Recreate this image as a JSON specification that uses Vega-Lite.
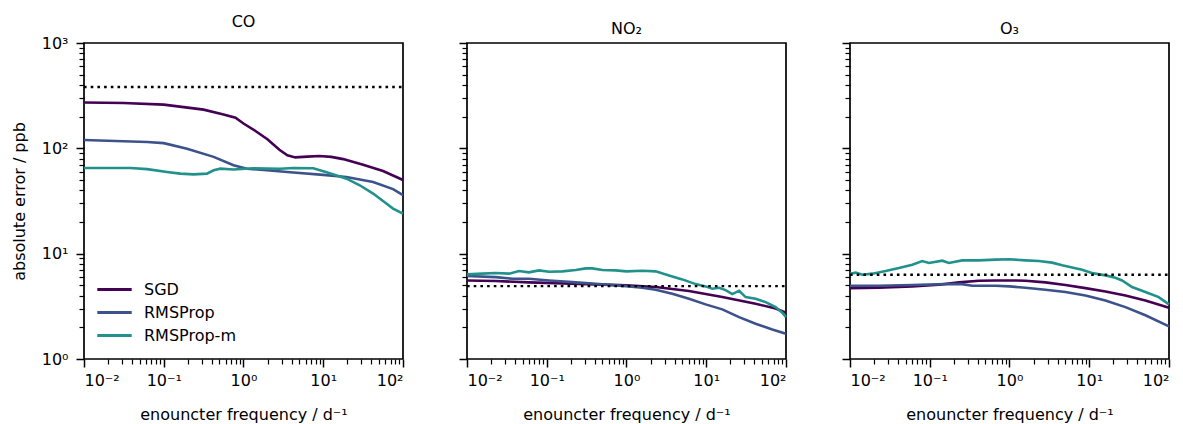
{
  "$schema": "https://vega.github.io/schema/vega-lite/v6.json",
  "background": "white",
  "padding": {"left": 10, "top": 13, "right": 2, "bottom": 5},
  "spacing": 64,
  "bounds": "flush",
  "config": {
    "font": "DejaVu Sans",
    "view": {"stroke": "black", "strokeWidth": 1.7},
    "axis": {"grid": false, "domain": false, "tickColor": "black", "tickWidth": 1.5, "labelColor": "black", "titleColor": "black", "labelFont": "DejaVu Sans", "titleFont": "DejaVu Sans", "labelFontSize": 16, "titleFontSize": 16, "titleFontWeight": "normal"},
    "legend": {"labelFont": "DejaVu Sans", "labelFontSize": 16, "labelColor": "black"}
  },
  "datasets": {
    "curves": [
      {"gas":"CO","opt":"SGD","f":0.01,"err":272},{"gas":"CO","opt":"SGD","f":0.0316,"err":269},{"gas":"CO","opt":"SGD","f":0.1,"err":260},{"gas":"CO","opt":"SGD","f":0.316,"err":233},{"gas":"CO","opt":"SGD","f":0.562,"err":210},{"gas":"CO","opt":"SGD","f":0.794,"err":195},{"gas":"CO","opt":"SGD","f":1,"err":172},{"gas":"CO","opt":"SGD","f":1.413,"err":146},{"gas":"CO","opt":"SGD","f":1.995,"err":122},{"gas":"CO","opt":"SGD","f":2.818,"err":97},{"gas":"CO","opt":"SGD","f":3.548,"err":86},{"gas":"CO","opt":"SGD","f":4.467,"err":82},{"gas":"CO","opt":"SGD","f":6.31,"err":83.4},{"gas":"CO","opt":"SGD","f":8.91,"err":84.5},{"gas":"CO","opt":"SGD","f":12.59,"err":83},{"gas":"CO","opt":"SGD","f":17.78,"err":79},{"gas":"CO","opt":"SGD","f":31.62,"err":70},{"gas":"CO","opt":"SGD","f":56.23,"err":61},{"gas":"CO","opt":"SGD","f":100,"err":50},
      {"gas":"CO","opt":"RMSProp","f":0.01,"err":120},{"gas":"CO","opt":"RMSProp","f":0.0619,"err":115},{"gas":"CO","opt":"RMSProp","f":0.1,"err":112},{"gas":"CO","opt":"RMSProp","f":0.196,"err":99},{"gas":"CO","opt":"RMSProp","f":0.422,"err":83},{"gas":"CO","opt":"RMSProp","f":0.75,"err":69},{"gas":"CO","opt":"RMSProp","f":1.102,"err":64},{"gas":"CO","opt":"RMSProp","f":1.959,"err":62},{"gas":"CO","opt":"RMSProp","f":4.22,"err":59},{"gas":"CO","opt":"RMSProp","f":10,"err":56},{"gas":"CO","opt":"RMSProp","f":19.5,"err":53.5},{"gas":"CO","opt":"RMSProp","f":42.2,"err":48},{"gas":"CO","opt":"RMSProp","f":75,"err":41},{"gas":"CO","opt":"RMSProp","f":100,"err":36},
      {"gas":"CO","opt":"RMSProp-m","f":0.01,"err":65},{"gas":"CO","opt":"RMSProp-m","f":0.0384,"err":65},{"gas":"CO","opt":"RMSProp-m","f":0.0619,"err":63.5},{"gas":"CO","opt":"RMSProp-m","f":0.11,"err":59.6},{"gas":"CO","opt":"RMSProp-m","f":0.161,"err":57.5},{"gas":"CO","opt":"RMSProp-m","f":0.237,"err":56.6},{"gas":"CO","opt":"RMSProp-m","f":0.348,"err":57.5},{"gas":"CO","opt":"RMSProp-m","f":0.422,"err":61.8},{"gas":"CO","opt":"RMSProp-m","f":0.512,"err":64.1},{"gas":"CO","opt":"RMSProp-m","f":0.75,"err":63},{"gas":"CO","opt":"RMSProp-m","f":1.334,"err":64.6},{"gas":"CO","opt":"RMSProp-m","f":2.87,"err":64.1},{"gas":"CO","opt":"RMSProp-m","f":4.22,"err":65},{"gas":"CO","opt":"RMSProp-m","f":7.5,"err":64.6},{"gas":"CO","opt":"RMSProp-m","f":11.02,"err":59.2},{"gas":"CO","opt":"RMSProp-m","f":19.6,"err":51.5},{"gas":"CO","opt":"RMSProp-m","f":28.7,"err":44.6},{"gas":"CO","opt":"RMSProp-m","f":42.2,"err":37.2},{"gas":"CO","opt":"RMSProp-m","f":61.9,"err":29.9},{"gas":"CO","opt":"RMSProp-m","f":75,"err":26.8},{"gas":"CO","opt":"RMSProp-m","f":100,"err":24},
      {"gas":"NO2","opt":"SGD","f":0.01,"err":5.57},{"gas":"NO2","opt":"SGD","f":0.0229,"err":5.5},{"gas":"NO2","opt":"SGD","f":0.0598,"err":5.34},{"gas":"NO2","opt":"SGD","f":0.157,"err":5.22},{"gas":"NO2","opt":"SGD","f":0.41,"err":5.11},{"gas":"NO2","opt":"SGD","f":1,"err":5.0},{"gas":"NO2","opt":"SGD","f":2.32,"err":4.82},{"gas":"NO2","opt":"SGD","f":6.07,"err":4.42},{"gas":"NO2","opt":"SGD","f":15.9,"err":3.87},{"gas":"NO2","opt":"SGD","f":41.6,"err":3.35},{"gas":"NO2","opt":"SGD","f":74.1,"err":3.01},{"gas":"NO2","opt":"SGD","f":100,"err":2.75},
      {"gas":"NO2","opt":"RMSProp","f":0.01,"err":6.13},{"gas":"NO2","opt":"RMSProp","f":0.0229,"err":5.99},{"gas":"NO2","opt":"RMSProp","f":0.037,"err":5.78},{"gas":"NO2","opt":"RMSProp","f":0.0598,"err":5.78},{"gas":"NO2","opt":"RMSProp","f":0.107,"err":5.57},{"gas":"NO2","opt":"RMSProp","f":0.209,"err":5.37},{"gas":"NO2","opt":"RMSProp","f":0.41,"err":5.18},{"gas":"NO2","opt":"RMSProp","f":0.731,"err":5.0},{"gas":"NO2","opt":"RMSProp","f":1,"err":4.92},{"gas":"NO2","opt":"RMSProp","f":1.578,"err":4.75},{"gas":"NO2","opt":"RMSProp","f":2.32,"err":4.55},{"gas":"NO2","opt":"RMSProp","f":3.75,"err":4.17},{"gas":"NO2","opt":"RMSProp","f":6.07,"err":3.74},{"gas":"NO2","opt":"RMSProp","f":9.82,"err":3.3},{"gas":"NO2","opt":"RMSProp","f":15.9,"err":2.96},{"gas":"NO2","opt":"RMSProp","f":25.8,"err":2.5},{"gas":"NO2","opt":"RMSProp","f":41.6,"err":2.16},{"gas":"NO2","opt":"RMSProp","f":67.3,"err":1.91},{"gas":"NO2","opt":"RMSProp","f":100,"err":1.74},
      {"gas":"NO2","opt":"RMSProp-m","f":0.01,"err":6.36},{"gas":"NO2","opt":"RMSProp-m","f":0.0156,"err":6.46},{"gas":"NO2","opt":"RMSProp-m","f":0.0229,"err":6.55},{"gas":"NO2","opt":"RMSProp-m","f":0.0337,"err":6.46},{"gas":"NO2","opt":"RMSProp-m","f":0.0449,"err":6.84},{"gas":"NO2","opt":"RMSProp-m","f":0.0598,"err":6.64},{"gas":"NO2","opt":"RMSProp-m","f":0.08,"err":6.94},{"gas":"NO2","opt":"RMSProp-m","f":0.107,"err":6.74},{"gas":"NO2","opt":"RMSProp-m","f":0.157,"err":6.79},{"gas":"NO2","opt":"RMSProp-m","f":0.231,"err":6.99},{"gas":"NO2","opt":"RMSProp-m","f":0.308,"err":7.25},{"gas":"NO2","opt":"RMSProp-m","f":0.373,"err":7.25},{"gas":"NO2","opt":"RMSProp-m","f":0.498,"err":6.99},{"gas":"NO2","opt":"RMSProp-m","f":0.731,"err":6.94},{"gas":"NO2","opt":"RMSProp-m","f":1,"err":6.79},{"gas":"NO2","opt":"RMSProp-m","f":1.578,"err":6.89},{"gas":"NO2","opt":"RMSProp-m","f":2.32,"err":6.79},{"gas":"NO2","opt":"RMSProp-m","f":3.41,"err":6.22},{"gas":"NO2","opt":"RMSProp-m","f":5.01,"err":5.7},{"gas":"NO2","opt":"RMSProp-m","f":7.36,"err":5.14},{"gas":"NO2","opt":"RMSProp-m","f":9.82,"err":4.89},{"gas":"NO2","opt":"RMSProp-m","f":11.9,"err":4.65},{"gas":"NO2","opt":"RMSProp-m","f":14.45,"err":4.75},{"gas":"NO2","opt":"RMSProp-m","f":17.5,"err":4.51},{"gas":"NO2","opt":"RMSProp-m","f":21.2,"err":4.13},{"gas":"NO2","opt":"RMSProp-m","f":25.8,"err":4.45},{"gas":"NO2","opt":"RMSProp-m","f":31.2,"err":3.87},{"gas":"NO2","opt":"RMSProp-m","f":41.6,"err":3.74},{"gas":"NO2","opt":"RMSProp-m","f":55.6,"err":3.47},{"gas":"NO2","opt":"RMSProp-m","f":74.1,"err":3.11},{"gas":"NO2","opt":"RMSProp-m","f":89.9,"err":2.75},{"gas":"NO2","opt":"RMSProp-m","f":100,"err":2.5},
      {"gas":"O3","opt":"SGD","f":0.01,"err":4.71},{"gas":"O3","opt":"SGD","f":0.0231,"err":4.75},{"gas":"O3","opt":"SGD","f":0.0604,"err":4.89},{"gas":"O3","opt":"SGD","f":0.13,"err":5.07},{"gas":"O3","opt":"SGD","f":0.232,"err":5.34},{"gas":"O3","opt":"SGD","f":0.413,"err":5.54},{"gas":"O3","opt":"SGD","f":0.668,"err":5.57},{"gas":"O3","opt":"SGD","f":1,"err":5.57},{"gas":"O3","opt":"SGD","f":1.585,"err":5.54},{"gas":"O3","opt":"SGD","f":2.82,"err":5.34},{"gas":"O3","opt":"SGD","f":5.02,"err":5.04},{"gas":"O3","opt":"SGD","f":8.95,"err":4.71},{"gas":"O3","opt":"SGD","f":15.96,"err":4.38},{"gas":"O3","opt":"SGD","f":28.4,"err":4.01},{"gas":"O3","opt":"SGD","f":50.6,"err":3.6},{"gas":"O3","opt":"SGD","f":100,"err":3.07},
      {"gas":"O3","opt":"RMSProp","f":0.01,"err":4.96},{"gas":"O3","opt":"RMSProp","f":0.0231,"err":4.96},{"gas":"O3","opt":"RMSProp","f":0.0604,"err":5.04},{"gas":"O3","opt":"RMSProp","f":0.158,"err":5.14},{"gas":"O3","opt":"RMSProp","f":0.255,"err":5.14},{"gas":"O3","opt":"RMSProp","f":0.34,"err":4.96},{"gas":"O3","opt":"RMSProp","f":0.668,"err":4.96},{"gas":"O3","opt":"RMSProp","f":1,"err":4.89},{"gas":"O3","opt":"RMSProp","f":1.585,"err":4.75},{"gas":"O3","opt":"RMSProp","f":2.82,"err":4.55},{"gas":"O3","opt":"RMSProp","f":5.02,"err":4.32},{"gas":"O3","opt":"RMSProp","f":8.95,"err":4.01},{"gas":"O3","opt":"RMSProp","f":15.96,"err":3.6},{"gas":"O3","opt":"RMSProp","f":28.4,"err":3.11},{"gas":"O3","opt":"RMSProp","f":50.6,"err":2.6},{"gas":"O3","opt":"RMSProp","f":100,"err":2.04},
      {"gas":"O3","opt":"RMSProp-m","f":0.01,"err":6.46},{"gas":"O3","opt":"RMSProp-m","f":0.0118,"err":6.61},{"gas":"O3","opt":"RMSProp-m","f":0.0143,"err":6.31},{"gas":"O3","opt":"RMSProp-m","f":0.0191,"err":6.46},{"gas":"O3","opt":"RMSProp-m","f":0.028,"err":6.84},{"gas":"O3","opt":"RMSProp-m","f":0.0411,"err":7.3},{"gas":"O3","opt":"RMSProp-m","f":0.0604,"err":7.85},{"gas":"O3","opt":"RMSProp-m","f":0.0805,"err":8.51},{"gas":"O3","opt":"RMSProp-m","f":0.0977,"err":8.15},{"gas":"O3","opt":"RMSProp-m","f":0.1435,"err":8.58},{"gas":"O3","opt":"RMSProp-m","f":0.174,"err":8.15},{"gas":"O3","opt":"RMSProp-m","f":0.255,"err":8.64},{"gas":"O3","opt":"RMSProp-m","f":0.413,"err":8.64},{"gas":"O3","opt":"RMSProp-m","f":0.668,"err":8.77},{"gas":"O3","opt":"RMSProp-m","f":1,"err":8.84},{"gas":"O3","opt":"RMSProp-m","f":1.585,"err":8.64},{"gas":"O3","opt":"RMSProp-m","f":2.33,"err":8.51},{"gas":"O3","opt":"RMSProp-m","f":3.42,"err":8.22},{"gas":"O3","opt":"RMSProp-m","f":4.57,"err":7.75},{"gas":"O3","opt":"RMSProp-m","f":8.13,"err":7.05},{"gas":"O3","opt":"RMSProp-m","f":10.8,"err":6.55},{"gas":"O3","opt":"RMSProp-m","f":15.96,"err":6.22},{"gas":"O3","opt":"RMSProp-m","f":21.3,"err":5.91},{"gas":"O3","opt":"RMSProp-m","f":25.8,"err":5.57},{"gas":"O3","opt":"RMSProp-m","f":34.4,"err":4.82},{"gas":"O3","opt":"RMSProp-m","f":50.6,"err":4.32},{"gas":"O3","opt":"RMSProp-m","f":74.3,"err":3.87},{"gas":"O3","opt":"RMSProp-m","f":100,"err":3.3}
    ],
    "refs": [
      {"gas":"CO","lo":0.01,"hi":100,"v":382},
      {"gas":"NO2","lo":0.01,"hi":100,"v":4.92},
      {"gas":"O3","lo":0.01,"hi":100,"v":6.31}
    ]
  },
  "hconcat": [
    {
      "width": 319, "height": 316,
      "title": {"text": "CO", "fontSize": 16, "fontWeight": "normal", "font": "DejaVu Sans", "color": "black", "offset": 5},
      "layer": [
        {
          "data": {"name": "curves"},
          "transform": [{"filter": "datum.gas === 'CO'"}],
          "mark": {"type": "line", "strokeWidth": 2.6},
          "encoding": {
            "x": {"field": "f", "type": "quantitative", "scale": {"type": "log", "domain": [0.01, 100], "nice": false}, "axis": {"orient": "bottom", "values": [0.01, 0.1, 1, 10, 100], "tickSize": 8, "labelPadding": 5, "labelExpr": "datum.value < 0.05 ? '10⁻²' : datum.value < 0.5 ? '10⁻¹' : datum.value < 5 ? '10⁰' : datum.value < 50 ? '10¹' : '10²'", "title": "enouncter frequency / d⁻¹", "titlePadding": 18}},
            "y": {"field": "err", "type": "quantitative", "scale": {"type": "log", "domain": [1, 1000], "nice": false}, "axis": {"orient": "left", "values": [1, 10, 100, 1000], "tickSize": 8, "labelPadding": 8, "labelExpr": "datum.value < 5 ? '10⁰' : datum.value < 50 ? '10¹' : datum.value < 500 ? '10²' : '10³'", "title": "absolute error / ppb", "titlePadding": 14}},
            "color": {"field": "opt", "type": "nominal", "sort": ["SGD", "RMSProp", "RMSProp-m"], "scale": {"domain": ["SGD", "RMSProp", "RMSProp-m"], "range": ["#440154", "#3b528b", "#21918c"]},
              "legend": {"orient": "none", "legendX": 19, "legendY": 235, "title": null, "symbolType": "M-1.72,0H1.72", "symbolSize": 400, "symbolStrokeWidth": 2.8, "labelOffset": 18, "rowPadding": 3, "padding": 0}}
          }
        },
        {
          "data": {"name": "refs"},
          "transform": [{"filter": "datum.gas === 'CO'"}],
          "mark": {"type": "rule", "color": "black", "strokeWidth": 2.4, "strokeDash": [2.6, 4.1]},
          "encoding": {
            "x": {"field": "lo", "type": "quantitative", "axis": {"orient": "bottom", "values": [0.02,0.03,0.04,0.05,0.06,0.07,0.08,0.09,0.2,0.3,0.4,0.5,0.6,0.7,0.8,0.9,2,3,4,5,6,7,8,9,20,30,40,50,60,70,80,90], "tickSize": 5, "tickWidth": 1.2, "labels": false, "title": null}},
            "x2": {"field": "hi"},
            "y": {"field": "v", "type": "quantitative", "axis": {"orient": "left", "values": [2,3,4,5,6,7,8,9,20,30,40,50,60,70,80,90,200,300,400,500,600,700,800,900], "tickSize": 5, "tickWidth": 1.2, "labels": false, "title": null}}
          }
        }
      ],
      "resolve": {"axis": {"x": "independent", "y": "independent"}}
    },
    {
      "width": 319, "height": 316,
      "title": {"text": "NO₂", "fontSize": 16, "fontWeight": "normal", "font": "DejaVu Sans", "color": "black", "offset": 5},
      "layer": [
        {
          "data": {"name": "curves"},
          "transform": [{"filter": "datum.gas === 'NO2'"}],
          "mark": {"type": "line", "strokeWidth": 2.6},
          "encoding": {
            "x": {"field": "f", "type": "quantitative", "scale": {"type": "log", "domain": [0.01, 100], "nice": false}, "axis": {"orient": "bottom", "values": [0.01, 0.1, 1, 10, 100], "tickSize": 8, "labelPadding": 5, "labelExpr": "datum.value < 0.05 ? '10⁻²' : datum.value < 0.5 ? '10⁻¹' : datum.value < 5 ? '10⁰' : datum.value < 50 ? '10¹' : '10²'", "title": "enouncter frequency / d⁻¹", "titlePadding": 18}},
            "y": {"field": "err", "type": "quantitative", "scale": {"type": "log", "domain": [1, 1000], "nice": false}, "axis": {"orient": "left", "values": [1, 10, 100, 1000], "tickSize": 8, "labels": false, "title": null}},
            "color": {"field": "opt", "type": "nominal", "sort": ["SGD", "RMSProp", "RMSProp-m"], "scale": {"domain": ["SGD", "RMSProp", "RMSProp-m"], "range": ["#440154", "#3b528b", "#21918c"]}, "legend": null}
          }
        },
        {
          "data": {"name": "refs"},
          "transform": [{"filter": "datum.gas === 'NO2'"}],
          "mark": {"type": "rule", "color": "black", "strokeWidth": 2.4, "strokeDash": [2.6, 4.1]},
          "encoding": {
            "x": {"field": "lo", "type": "quantitative", "axis": {"orient": "bottom", "values": [0.02,0.03,0.04,0.05,0.06,0.07,0.08,0.09,0.2,0.3,0.4,0.5,0.6,0.7,0.8,0.9,2,3,4,5,6,7,8,9,20,30,40,50,60,70,80,90], "tickSize": 5, "tickWidth": 1.2, "labels": false, "title": null}},
            "x2": {"field": "hi"},
            "y": {"field": "v", "type": "quantitative", "axis": {"orient": "left", "values": [2,3,4,5,6,7,8,9,20,30,40,50,60,70,80,90,200,300,400,500,600,700,800,900], "tickSize": 5, "tickWidth": 1.2, "labels": false, "title": null}}
          }
        }
      ],
      "resolve": {"axis": {"x": "independent", "y": "independent"}}
    },
    {
      "width": 319, "height": 316,
      "title": {"text": "O₃", "fontSize": 16, "fontWeight": "normal", "font": "DejaVu Sans", "color": "black", "offset": 5},
      "layer": [
        {
          "data": {"name": "curves"},
          "transform": [{"filter": "datum.gas === 'O3'"}],
          "mark": {"type": "line", "strokeWidth": 2.6},
          "encoding": {
            "x": {"field": "f", "type": "quantitative", "scale": {"type": "log", "domain": [0.01, 100], "nice": false}, "axis": {"orient": "bottom", "values": [0.01, 0.1, 1, 10, 100], "tickSize": 8, "labelPadding": 5, "labelExpr": "datum.value < 0.05 ? '10⁻²' : datum.value < 0.5 ? '10⁻¹' : datum.value < 5 ? '10⁰' : datum.value < 50 ? '10¹' : '10²'", "title": "enouncter frequency / d⁻¹", "titlePadding": 18}},
            "y": {"field": "err", "type": "quantitative", "scale": {"type": "log", "domain": [1, 1000], "nice": false}, "axis": {"orient": "left", "values": [1, 10, 100, 1000], "tickSize": 8, "labels": false, "title": null}},
            "color": {"field": "opt", "type": "nominal", "sort": ["SGD", "RMSProp", "RMSProp-m"], "scale": {"domain": ["SGD", "RMSProp", "RMSProp-m"], "range": ["#440154", "#3b528b", "#21918c"]}, "legend": null}
          }
        },
        {
          "data": {"name": "refs"},
          "transform": [{"filter": "datum.gas === 'O3'"}],
          "mark": {"type": "rule", "color": "black", "strokeWidth": 2.4, "strokeDash": [2.6, 4.1]},
          "encoding": {
            "x": {"field": "lo", "type": "quantitative", "axis": {"orient": "bottom", "values": [0.02,0.03,0.04,0.05,0.06,0.07,0.08,0.09,0.2,0.3,0.4,0.5,0.6,0.7,0.8,0.9,2,3,4,5,6,7,8,9,20,30,40,50,60,70,80,90], "tickSize": 5, "tickWidth": 1.2, "labels": false, "title": null}},
            "x2": {"field": "hi"},
            "y": {"field": "v", "type": "quantitative", "axis": {"orient": "left", "values": [2,3,4,5,6,7,8,9,20,30,40,50,60,70,80,90,200,300,400,500,600,700,800,900], "tickSize": 5, "tickWidth": 1.2, "labels": false, "title": null}}
          }
        }
      ],
      "resolve": {"axis": {"x": "independent", "y": "independent"}}
    }
  ]
}
